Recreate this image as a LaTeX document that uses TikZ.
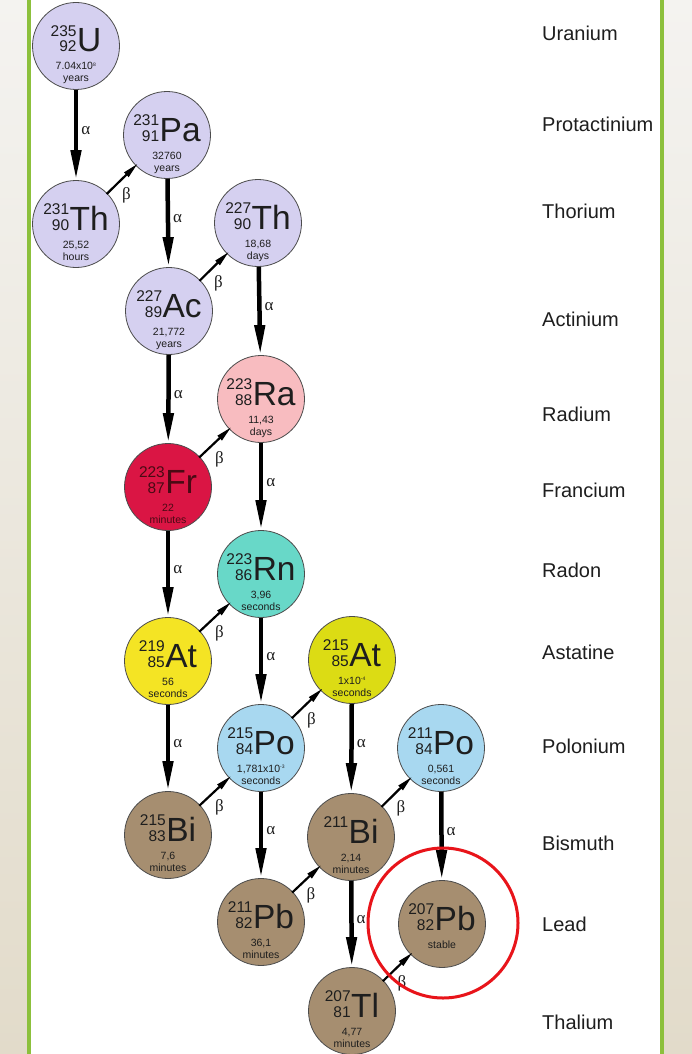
\documentclass[tikz,border=0pt]{standalone}
\usepackage{fontspec}
\setmainfont{Liberation Sans}
\newfontfamily\grk{Liberation Serif}
\usetikzlibrary{arrows.meta}
\definecolor{lav}{HTML}{D5D0F0}
\definecolor{rapink}{HTML}{F8BCC0}
\definecolor{frred}{HTML}{DA1544}
\definecolor{frtext}{HTML}{4A0A14}
\definecolor{rnteal}{HTML}{68D8C8}
\definecolor{atyel}{HTML}{F4E424}
\definecolor{atgrn}{HTML}{DCDC14}
\definecolor{poblue}{HTML}{A8D8F0}
\definecolor{brown}{HTML}{A68E70}
\definecolor{barg}{HTML}{8CC03C}
\definecolor{stripT}{HTML}{F4F3F0}
\definecolor{stripB}{HTML}{E2DBCA}
\definecolor{ink}{HTML}{1E1E1E}
\definecolor{ringred}{HTML}{E8141A}
\newcommand\nums[2]{{\fontsize{15.5}{14}\selectfont\begin{tabular}[b]{@{}r@{}}#1\\#2\end{tabular}}}
\newcommand\symf{\fontsize{33.5}{33.5}\selectfont}
\newcommand\hlt[1]{{\fontsize{10.5}{12}\selectfont\begin{tabular}[t]{@{}c@{}}#1\end{tabular}}}
\newcommand\iso[8]{%
  \node[ball,fill=#4] (#1) at (#2,#3) {};
  \node[symtxt] (#1-sym) at ([yshift=-6pt]#1.center) {\nums{#5}{#6}\kern0.5pt\symf #7};
  \node[hltxt] (#1-hl) at ([yshift=-24pt]#1.center) {\hlt{#8}};
}
\begin{document}
\begin{tikzpicture}[x=1pt,y=-1pt,
  ball/.style={circle,minimum size=87pt,inner sep=0pt,draw=black!70,line width=0.8pt},
  symtxt/.style={anchor=base,inner sep=0pt,text=ink},
  hltxt/.style={anchor=base,inner sep=0pt,text=ink},
  alpha/.style={line width=4.5pt,-{Triangle[length=30pt,width=10pt]}},
  beta/.style={line width=2.2pt,-{Triangle[length=16pt,width=6pt]},shorten >=-3pt,shorten <=-1pt},
  alab/.style={pos=0.45,anchor=west,xshift=3pt,inner sep=0pt,font=\grk\fontsize{17}{17}\selectfont,text=ink},
  blab/.style={pos=0.5,inner sep=0pt,xshift=5pt,yshift=-16pt,font=\grk\fontsize{17}{17}\selectfont,text=ink},
  lab/.style={anchor=west,inner sep=0pt,font=\fontsize{20}{20}\selectfont,text=ink}]
\useasboundingbox (0,0) rectangle (692,1054);
% background
\fill[white] (0,0) rectangle (692,1054);
\shade[top color=stripT,bottom color=stripB] (0,0) rectangle (27,1054);
\shade[top color=stripT,bottom color=stripB] (664,0) rectangle (692,1054);
% labels
\node[lab] (lU) at (542,33) {Uranium};
\node[lab] (lPa) at (542,124) {Protactinium};
\node[lab] (lTh) at (542,211) {Thorium};
\node[lab] (lAc) at (542,319) {Actinium};
\node[lab] (lRa) at (542,414) {Radium};
\node[lab] (lFr) at (542,490) {Francium};
\node[lab] (lRn) at (542,570) {Radon};
\node[lab] (lAt) at (542,652) {Astatine};
\node[lab] (lPo) at (542,746) {Polonium};
\node[lab] (lBi) at (542,843) {Bismuth};
\node[lab] (lPb) at (542,924) {Lead};
\node[lab] (lTl) at (542,1022) {Thalium};
% green bars
\fill[barg] (27,0) rectangle (31,1054);
\fill[barg] (660,0) rectangle (664,1054);
% isotopes
\iso{U}{76}{46}{lav}{235}{92}{U}{7.04x10\textsuperscript{\fontsize{5}{5}\selectfont 8}\\years}
\iso{Pa}{167}{135}{lav}{231}{91}{Pa}{32760\\years}
\iso{ThA}{76}{224}{lav}{231}{90}{Th}{25,52\\hours}
\iso{ThB}{258}{223}{lav}{227}{90}{Th}{18,68\\days}
\iso{Ac}{169}{311}{lav}{227}{89}{Ac}{21,772\\years}
\iso{Ra}{261}{399}{rapink}{223}{88}{Ra}{11,43\\days}
\begin{scope}[symtxt/.append style={text=frtext},hltxt/.append style={text=frtext}]
\iso{Fr}{168}{487}{frred}{223}{87}{Fr}{22\\minutes}
\end{scope}
\iso{Rn}{261}{574}{rnteal}{223}{86}{Rn}{3,96\\seconds}
\iso{AtA}{168}{661}{atyel}{219}{85}{At}{56\\seconds}
\iso{AtB}{352}{660}{atgrn}{215}{85}{At}{1x10\textsuperscript{\fontsize{5}{5}\selectfont -4}\\seconds}
\iso{PoA}{261}{748}{poblue}{215}{84}{Po}{1,781x10\textsuperscript{\fontsize{5}{5}\selectfont -3}\\seconds}
\iso{PoB}{441}{748}{poblue}{211}{84}{Po}{0,561\\seconds}
\iso{BiA}{168}{835}{brown}{215}{83}{Bi}{7,6\\minutes}
\iso{BiB}{351}{837}{brown}{211}{\phantom{83}}{Bi}{2,14\\minutes}
\iso{PbA}{261}{922}{brown}{211}{82}{Pb}{36,1\\minutes}
\iso{PbB}{442}{924}{brown}{207}{82}{Pb}{stable}
\iso{Tl}{352}{1011}{brown}{207}{81}{Tl}{4,77\\minutes}
% alpha decays
\draw[alpha] (U) -- (ThA) node[alab] (a1) {α};
\draw[alpha] (Pa) -- (Ac) node[alab] (a2) {α};
\draw[alpha] (ThB) -- (Ra) node[alab] (a3) {α};
\draw[alpha] (Ac) -- (Fr) node[alab] (a4) {α};
\draw[alpha] (Ra) -- (Rn) node[alab] (a5) {α};
\draw[alpha] (Fr) -- (AtA) node[alab] (a6) {α};
\draw[alpha] (Rn) -- (PoA) node[alab] (a7) {α};
\draw[alpha] (AtA) -- (BiA) node[alab] (a8) {α};
\draw[alpha] (AtB) -- (BiB) node[alab] (a9) {α};
\draw[alpha] (PoA) -- (PbA) node[alab] (a10) {α};
\draw[alpha] (PoB) -- (PbB) node[alab] (a11) {α};
\draw[alpha] (BiB) -- (Tl) node[alab] (a12) {α};
% beta decays
\draw[beta] (ThA) -- (Pa) node[blab] (b1) {β};
\draw[beta] (Ac) -- (ThB) node[blab] (b2) {β};
\draw[beta] (Fr) -- (Ra) node[blab] (b3) {β};
\draw[beta] (AtA) -- (Rn) node[blab] (b4) {β};
\draw[beta] (PoA) -- (AtB) node[blab] (b5) {β};
\draw[beta] (BiA) -- (PoA) node[blab] (b6) {β};
\draw[beta] (BiB) -- (PoB) node[blab] (b7) {β};
\draw[beta] (PbA) -- (BiB) node[blab] (b8) {β};
\draw[beta] (Tl) -- (PbB) node[blab] (b9) {β};
% highlight ring
\node[circle,draw=ringred,line width=3pt,minimum size=150pt,inner sep=0pt] (ring) at (443,923) {};
\end{tikzpicture}
\end{document}
